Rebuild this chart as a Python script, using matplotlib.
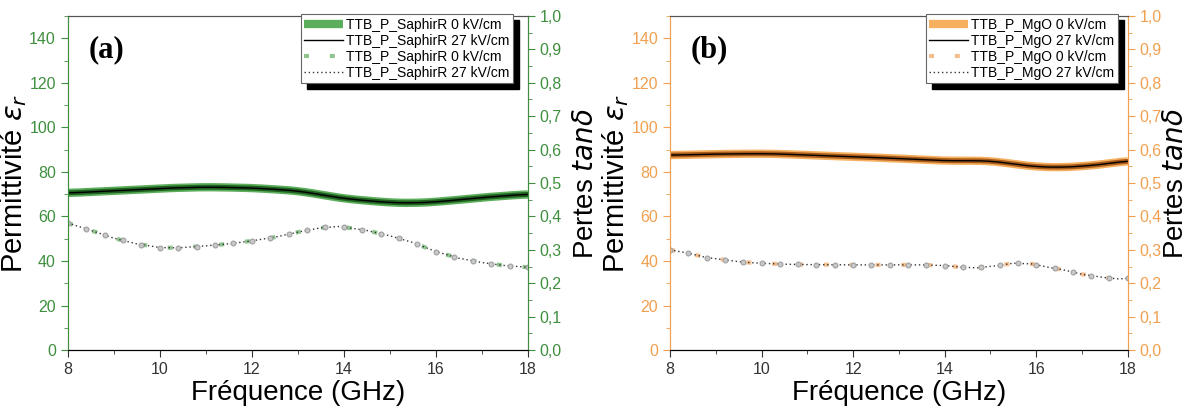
import matplotlib.pyplot as plt
import matplotlib.ticker as mticker
from matplotlib.patches import Rectangle
import numpy as np

plt.rcParams['font.family'] = ['Liberation Sans', 'DejaVu Sans']
plt.rcParams['mathtext.fontset'] = 'dejavusans'

# Panel (a) - SaphirR
freq_eps_a = [8, 9, 10, 11, 12, 13, 14, 15, 15.5, 16, 17, 18]
eps_a = [70.5, 71.5, 72.6, 73.2, 72.8, 71.5, 68.0, 66.2, 66.0, 66.5, 68.5, 70.0]
freq_tan_a = [8, 8.4, 9, 9.5, 10, 10.4, 11, 11.5, 12, 12.5, 13, 13.5, 13.9,
              14.5, 15, 15.5, 16, 16.5, 17, 17.5, 18]
tan_a = [0.380, 0.363, 0.335, 0.318, 0.307, 0.306, 0.312, 0.318, 0.327, 0.338,
         0.353, 0.366, 0.370, 0.358, 0.342, 0.322, 0.295, 0.275, 0.262, 0.253, 0.248]

# Panel (b) - MgO
freq_eps_b = [8, 9, 10, 10.5, 11, 12, 13, 14, 15, 15.5, 16, 16.5, 17, 17.5, 18]
eps_b = [87.5, 88.0, 88.2, 88.0, 87.5, 86.8, 86.0, 85.0, 85.0, 83.5, 82.3, 82.0, 82.5, 83.5, 85.0]
freq_tan_b = [8, 8.4, 8.8, 9.2, 9.6, 10, 10.5, 11, 12, 13, 13.5, 14, 14.3, 14.7,
              15.1, 15.5, 15.9, 16.3, 16.6, 17, 17.5, 17.8, 18]
tan_b = [0.300, 0.290, 0.277, 0.270, 0.263, 0.260, 0.257, 0.256, 0.255, 0.255, 0.255,
         0.253, 0.249, 0.246, 0.252, 0.260, 0.258, 0.247, 0.240, 0.227, 0.217, 0.213, 0.215]

labels_a = ['TTB_P_SaphirR 0 kV/cm', 'TTB_P_SaphirR 27 kV/cm',
            'TTB_P_SaphirR 0 kV/cm', 'TTB_P_SaphirR 27 kV/cm']
labels_b = ['TTB_P_MgO 0 kV/cm', 'TTB_P_MgO 27 kV/cm',
            'TTB_P_MgO 0 kV/cm', 'TTB_P_MgO 27 kV/cm']

fig = plt.figure(figsize=(11.89, 4.09), dpi=100)


def panel(rect, fx_e, e, fx_t, t, color, thick, core, dotcol, labels, tag, legx, rpad):
    ax = fig.add_axes(rect)
    ax2 = ax.twinx()
    fe = np.linspace(8, 18, 300)
    ye = np.interp(fe, fx_e, e)
    ye = np.convolve(np.pad(ye, 10, mode='edge'), np.ones(21) / 21, mode='valid')
    l1, = ax.plot(fe, ye, color=thick, lw=6, solid_capstyle='butt')
    ax.plot(fe, ye, color=core, lw=3.5)
    l2, = ax.plot(fe, ye, color='black', lw=1.0)
    l3, = ax2.plot(fx_t, t, color=dotcol, lw=3, linestyle=(0, (1.2, 5)))
    l4, = ax2.plot(fx_t, t, color='#333333', lw=1.0, linestyle=(0, (1, 2)))
    fm = np.arange(8, 18.01, 0.4)
    ax2.plot(fm, np.interp(fm, fx_t, t), linestyle='none', marker='o', ms=3.5,
             mfc='#c8c8c8', mec='#a0a0a0', mew=0.8)

    ax.set_xlim(8, 18)
    ax.set_ylim(0, 150)
    ax2.set_ylim(0, 1.0)
    ax.xaxis.set_major_locator(mticker.MultipleLocator(2))
    ax.xaxis.set_minor_locator(mticker.MultipleLocator(1))
    ax.yaxis.set_major_locator(mticker.MultipleLocator(20))
    ax.yaxis.set_minor_locator(mticker.MultipleLocator(10))
    ax2.yaxis.set_major_locator(mticker.MultipleLocator(0.1))
    ax2.yaxis.set_minor_locator(mticker.MultipleLocator(0.05))
    ax2.yaxis.set_major_formatter(mticker.FuncFormatter(lambda v, p: f'{v:.1f}'.replace('.', ',')))

    for a in (ax, ax2):
        a.spines['left'].set_color(color)
        a.spines['right'].set_color(color)
        a.spines['top'].set_color('#555555')
    for a in (ax, ax2):
        a.tick_params(axis='y', which='both', direction='out', colors=color, labelsize=11.5)
        a.tick_params(axis='y', which='major', length=5)
        a.tick_params(axis='y', which='minor', length=3)
    ax.tick_params(axis='x', which='both', direction='out', labelsize=11.5, colors='#333333')
    ax.tick_params(axis='x', which='major', length=5)
    ax.tick_params(axis='x', which='minor', length=3)

    ax.set_xlabel('Fréquence (GHz)', fontsize=20, labelpad=2)
    ax.set_ylabel(r'Permittivité $\mathit{\varepsilon_r}$', fontsize=21, labelpad=0)
    ax2.set_ylabel(r'Pertes $\mathit{tan\delta}$', fontsize=20, labelpad=rpad)

    ax.text(0.045, 0.9, tag, transform=ax.transAxes, fontsize=22, fontweight='bold',
            family='Liberation Serif', va='center')

    leg = ax2.legend([l1, l2, l3, l4], labels, loc='upper right', bbox_to_anchor=(legx, 1.005),
                     fontsize=10, frameon=True, fancybox=False, framealpha=1, borderpad=0.25,
                     labelspacing=0.15, handlelength=2.8, handletextpad=0.2, borderaxespad=0.0)
    leg.get_frame().set_edgecolor('#666666')
    leg.get_frame().set_facecolor('white')
    leg.get_frame().set_linewidth(0.8)
    leg.set_zorder(20)
    return ax, ax2, leg


legs = []
legs.append(panel([0.057, 0.144, 0.387, 0.817], freq_eps_a, eps_a, freq_tan_a, tan_a,
                  '#3f8f3f', '#5cae5c', '#1f5f1f', '#8fc48f', labels_a, '(a)', 0.967, 8))
legs.append(panel([0.5635, 0.144, 0.385, 0.817], freq_eps_b, eps_b, freq_tan_b, tan_b,
                  '#f0a050', '#f6b060', '#a85a18', '#f5c090', labels_b, '(b)', 0.978, 1))

# black drop shadow behind legends
fig.canvas.draw()
for ax, ax2, leg in legs:
    bb = leg.get_window_extent().transformed(fig.transFigure.inverted())
    dx, dy = 6 / 1189, 6 / 409
    ax2.add_patch(Rectangle((bb.x0 + dx, bb.y0 - dy), bb.width, bb.height,
                            transform=fig.transFigure, color='black', zorder=19, clip_on=False))

fig.savefig('out.png', dpi=100)
